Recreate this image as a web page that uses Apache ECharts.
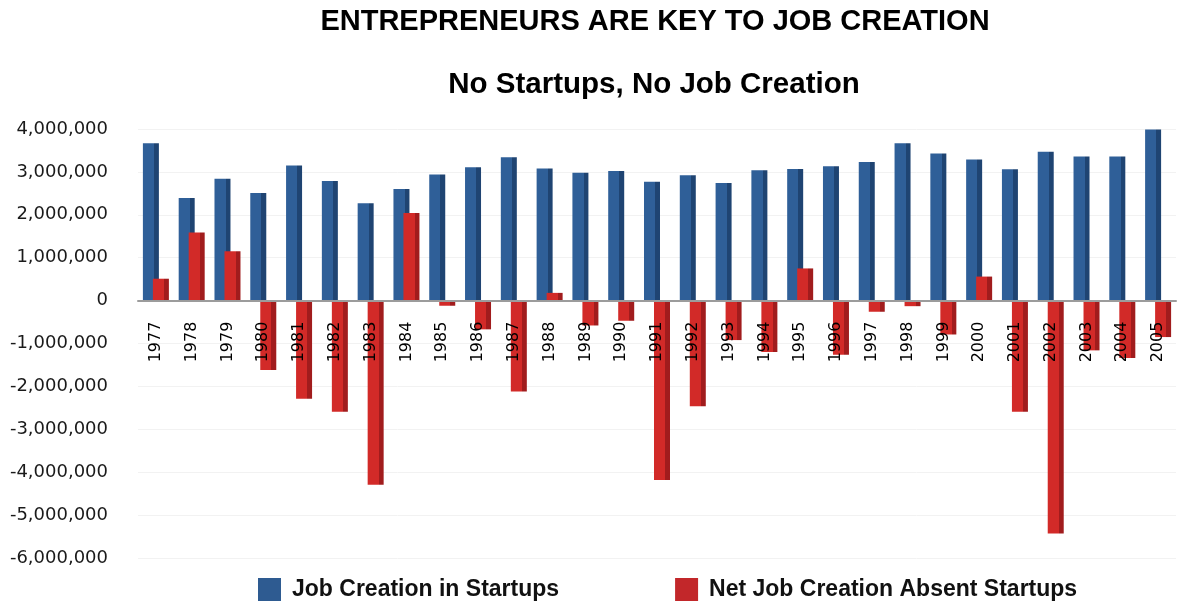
<!DOCTYPE html>
<html>
<head>
<meta charset="utf-8">
<script src="https://cdn.jsdelivr.net/npm/echarts@6/dist/echarts.min.js"></script>
<style>
html,body{margin:0;padding:0;background:#fff;}
#chart{width:1180px;height:605px;}
</style>
</head>
<body>
<div id="chart"></div>
<script>
var years = ['1977','1978','1979','1980','1981','1982','1983','1984','1985','1986','1987','1988','1989','1990','1991','1992','1993','1994','1995','1996','1997','1998','1999','2000','2001','2002','2003','2004','2005'];
var startupJobs = [3670000,2390000,2840000,2510000,3150000,2790000,2270000,2600000,2940000,3110000,3340000,3080000,2980000,3020000,2770000,2920000,2740000,3040000,3070000,3130000,3230000,3670000,3430000,3290000,3060000,3470000,3360000,3360000,3990000];
var netAbsentStartups = [510000,1590000,1150000,-1620000,-2290000,-2590000,-4290000,2040000,-120000,-670000,-2120000,180000,-580000,-470000,-4180000,-2460000,-920000,-1200000,750000,-1260000,-260000,-130000,-790000,560000,-2590000,-5430000,-1160000,-1340000,-850000];
var yMin = -6000000, yMax = 4000000, yStep = 1000000;
var seriesNames = ['Job Creation in Startups', 'Net Job Creation Absent Startups'];
var titleText = 'ENTREPRENEURS ARE KEY TO JOB CREATION';
var subtitleText = 'No Startups, No Job Creation';

var gridTop = 129, gridHeight = 429;
var zeroOffset = gridHeight * (0 - yMin) / (yMax - yMin);

function sideGrad(main, dark) {
  return new echarts.graphic.LinearGradient(0, 0, 1, 0, [
    {offset: 0, color: main}, {offset: 0.7, color: main},
    {offset: 0.7, color: dark}, {offset: 1, color: dark}
  ]);
}

var chart = echarts.init(document.getElementById('chart'), null, {renderer: 'canvas'});
chart.setOption({
  backgroundColor: '#ffffff',
  animation: false,
  title: [
    {text: titleText, left: 650, top: 2, textAlign: 'center',
     textStyle: {fontFamily: 'Liberation Sans', fontWeight: 'bold', fontSize: 29, color: '#000'}},
    {text: subtitleText, left: 649, top: 65, textAlign: 'center',
     textStyle: {fontFamily: 'Liberation Sans', fontWeight: 'bold', fontSize: 29.5, color: '#000'}}
  ],
  legend: {
    left: 253, top: 573, itemWidth: 23, itemHeight: 23, itemGap: 116, icon: 'rect',
    data: [
      {name: seriesNames[0], itemStyle: {color: '#2e5b91'}},
      {name: seriesNames[1], itemStyle: {color: '#c2272a'}}
    ],
    textStyle: {fontFamily: 'Liberation Sans', fontWeight: 'bold', fontSize: 23, color: '#111', padding: [0, 0, 0, 6]}
  },
  grid: {left: 138, top: gridTop, width: 1038, height: gridHeight, containLabel: false},
  xAxis: {
    type: 'category', data: years, z: 10,
    offset: -zeroOffset,
    axisLine: {onZero: false, lineStyle: {color: '#9c9c9c', width: 2}},
    axisTick: {show: false},
    axisLabel: {rotate: 90, margin: 21, fontFamily: 'DejaVu Sans', fontSize: 16, color: '#000', padding: [0, 0, 12, 0], interval: 0},
    splitLine: {show: false}
  },
  yAxis: {
    type: 'value', min: yMin, max: yMax, interval: yStep,
    axisLine: {show: false}, axisTick: {show: false},
    axisLabel: {margin: 30, fontFamily: 'DejaVu Sans', fontSize: 18, color: '#1a1a1a', padding: [6, 0, 0, 0],
      formatter: function (v) { return v === 0 ? '0' : v.toLocaleString('en-US'); }},
    splitLine: {lineStyle: {color: '#f2f2f2', width: 1}}
  },
  series: [
    {name: seriesNames[0], type: 'bar', data: startupJobs, barWidth: 16, barGap: '-37.5%',
     itemStyle: {color: sideGrad('#2f5f98', '#1f4472')}},
    {name: seriesNames[1], type: 'bar', data: netAbsentStartups, barWidth: 16, barGap: '-37.5%',
     itemStyle: {color: sideGrad('#d22a28', '#a11c1d')}}
  ]
});
</script>
</body>
</html>
